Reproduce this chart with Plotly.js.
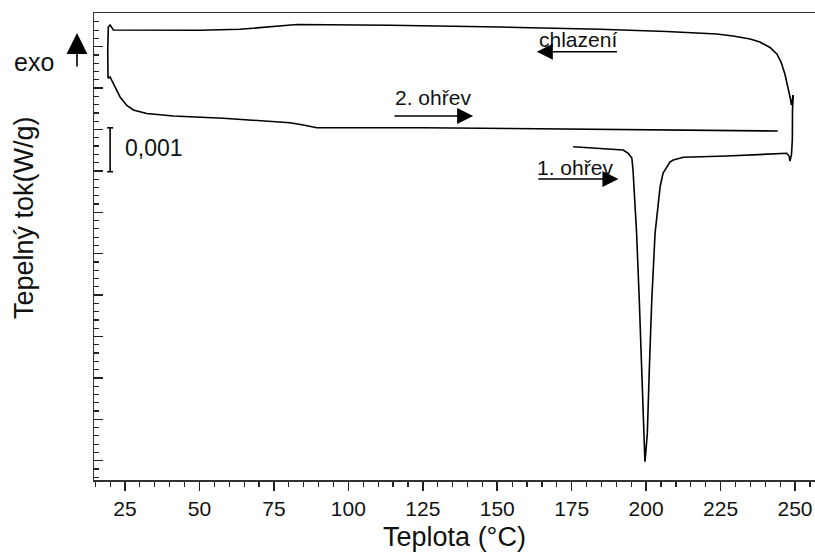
<!DOCTYPE html>
<html>
<head>
<meta charset="utf-8">
<script src="https://cdn.plot.ly/plotly-3.0.1.min.js"></script>
<style>
  html, body { margin: 0; padding: 0; background: #fff; }
  #chart { width: 815px; height: 556px; }
</style>
</head>
<body>
<div id="chart"></div>
<script>
// ---- Data (temperature in °C, heat flow in W/g, offset arbitrary) ----
const heat1T = [175.5,184.5,191.2,192.3,194.0,195.2,195.6,195.9,196.8,197.7,198.5,199.05,199.35,199.6,199.9,200.4,201.1,201.9,203.0,204.0,204.7,205.7,206.9,208.0,209.1,212.5,227.1,247.2,248.0,248.3,248.8,249.1,249.15,249.4];
const heat1Q = [-0.002415,-0.002454,-0.002478,-0.002495,-0.002575,-0.002688,-0.002978,-0.003382,-0.004507,-0.006118,-0.007729,-0.009338,-0.009790,-0.010024,-0.009790,-0.009338,-0.007729,-0.006118,-0.004507,-0.003780,-0.003382,-0.003051,-0.002899,-0.002785,-0.002737,-0.002671,-0.002640,-0.002575,-0.002640,-0.002761,-0.002616,-0.002254,-0.001529,-0.001167];

const coolT = [249.4,248.8,248.4,247.7,246.6,245.3,243.9,241.6,238.2,234.9,229.2,223.7,206.9,184.5,150.9,114.0,82.8,78.7,71.3,63.6,50.2,33.4,21.1,20.0,19.4,19.2,19.3];
const coolQ = [-0.001167,-0.001408,-0.001239,-0.000998,-0.000659,-0.000370,-0.000176,-0.000019,0.000114,0.000186,0.000258,0.000307,0.000367,0.000420,0.000476,0.000517,0.000536,0.000512,0.000469,0.000420,0.000396,0.000391,0.000403,0.000524,0.000476,-0.000080,-0.000763];

const heat2T = [19.3,20.0,20.5,21.6,23.3,25.6,27.8,32.3,41.2,58.0,73.7,80.4,84.9,89.4,97.2,125.1,154.3,184.5,218.1,244.2];
const heat2Q = [-0.000763,-0.000732,-0.000804,-0.000966,-0.001208,-0.001420,-0.001529,-0.001614,-0.001674,-0.001729,-0.001800,-0.001836,-0.001891,-0.001957,-0.001957,-0.001957,-0.001976,-0.002000,-0.002019,-0.002036];

const xTickVals = [25,50,75,100,125,150,175,200,225,250];
const xTickText = ['25','50','75','100','125','150','175','200','225','250'];

const FONT = 'Liberation Sans, Arial, Helvetica, sans-serif';
const lineStyle = {color: '#000', width: 1.6};

const traces = [
  {x: heat1T, y: heat1Q, mode: 'lines', line: lineStyle, name: '1. ohřev', hoverinfo: 'x+y'},
  {x: coolT,  y: coolQ,  mode: 'lines', line: lineStyle, name: 'chlazení', hoverinfo: 'x+y'},
  {x: heat2T, y: heat2Q, mode: 'lines', line: lineStyle, name: '2. ohřev', hoverinfo: 'x+y'}
];

const arrowCommon = {showarrow: true, arrowhead: 2, arrowsize: 2.0, arrowwidth: 1.6, arrowcolor: '#000',
                     text: '', xref: 'x', yref: 'y', axref: 'x', ayref: 'y'};

const layout = {
  width: 815, height: 556,
  margin: {l: 94, r: 0, t: 13, b: 76},
  paper_bgcolor: '#fff', plot_bgcolor: '#fff',
  showlegend: false,
  font: {family: FONT, color: '#111'},
  xaxis: {
    range: [14.59, 256.71],
    tickvals: xTickVals, ticktext: xTickText,
    ticks: 'outside', ticklen: 9, tickwidth: 1.5, tickcolor: '#222',
    minor: {dtick: 5, tick0: 0, ticks: 'outside', ticklen: 5, tickwidth: 1.2, tickcolor: '#222'},
    showline: true, linecolor: '#333', linewidth: 1.5, mirror: true,
    showgrid: false, zeroline: false,
    tickfont: {size: 21, family: FONT, color: '#111'},
    title: {text: 'Teplota (°C)', font: {size: 27, family: FONT, color: '#111'}, standoff: 8}
  },
  yaxis: {
    range: [-0.010466, 0.000814],
    tick0: 0, dtick: 0.001,
    ticks: 'inside', ticklen: 9, tickwidth: 1.5, tickcolor: '#222',
    minor: {dtick: 0.0002, ticks: 'inside', ticklen: 5, tickwidth: 1.2, tickcolor: '#222'},
    showticklabels: false,
    showline: true, linecolor: '#333', linewidth: 1.5, mirror: false,
    showgrid: false, zeroline: false
  },
  shapes: [
    {type: 'line', xref: 'x', yref: 'y', x0: 20.0, x1: 20.0, y0: -0.00196, y1: -0.00302, line: {color: '#000', width: 1.6}},
    {type: 'line', xref: 'x', yref: 'y', x0: 19.0, x1: 21.0, y0: -0.00196, y1: -0.00196, line: {color: '#000', width: 1.6}},
    {type: 'line', xref: 'x', yref: 'y', x0: 19.0, x1: 21.0, y0: -0.00302, y1: -0.00302, line: {color: '#000', width: 1.6}}
  ],
  annotations: [
    {text: 'Tepelný tok(W/g)', xref: 'paper', yref: 'paper', x: -0.0971, y: 0.563,
     textangle: -90, showarrow: false, xanchor: 'center', yanchor: 'middle',
     font: {size: 27, family: FONT, color: '#111'}},
    {text: 'exo', xref: 'paper', yref: 'paper', x: -0.0832, y: 0.896, showarrow: false,
     xanchor: 'center', yanchor: 'middle', font: {size: 25, family: FONT, color: '#111'}},
    {text: '', xref: 'paper', yref: 'paper', x: -0.0236, y: 0.957, ax: 0, ay: 35,
     showarrow: true, arrowhead: 2, arrowsize: 2.6, arrowwidth: 1.6, arrowcolor: '#000'},
    {text: '0,001', xref: 'x', yref: 'y', x: 24.3, y: -0.002447, showarrow: false,
     xanchor: 'left', yanchor: 'middle', font: {size: 23, family: FONT, color: '#111'}},
    {text: 'chlazení', xref: 'x', yref: 'y', x: 177.1, y: 0.000186, showarrow: false,
     xanchor: 'center', yanchor: 'middle', font: {size: 21, family: FONT, color: '#111'}},
    Object.assign({}, arrowCommon, {x: 163.3, y: -0.000121, ax: 190.7, ay: -0.000121}),
    {text: '2. ohřev', xref: 'x', yref: 'y', x: 128.4, y: -0.001227, showarrow: false,
     xanchor: 'center', yanchor: 'middle', font: {size: 21, family: FONT, color: '#111'}},
    Object.assign({}, arrowCommon, {x: 141.9, y: -0.001674, ax: 115.0, ay: -0.001674}),
    {text: '1. ohřev', xref: 'x', yref: 'y', x: 176.1, y: -0.002918, showarrow: false,
     xanchor: 'center', yanchor: 'middle', font: {size: 21, family: FONT, color: '#111'}},
    Object.assign({}, arrowCommon, {x: 190.7, y: -0.003196, ax: 163.3, ay: -0.003196})
  ]
};

Plotly.newPlot('chart', traces, layout, {staticPlot: true, displayModeBar: false});
</script>
</body>
</html>
